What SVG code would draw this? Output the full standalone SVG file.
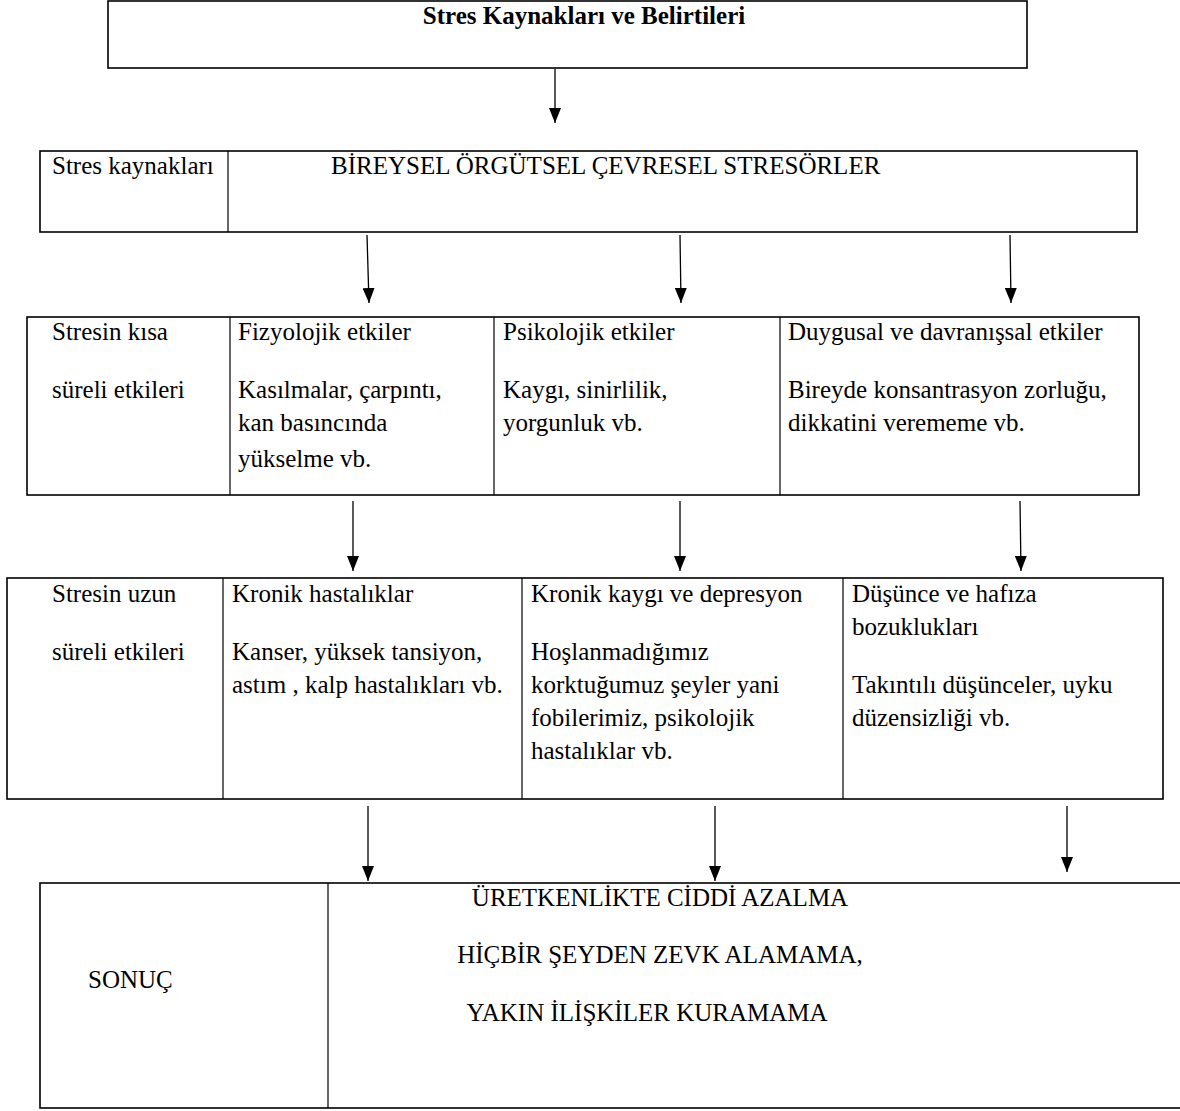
<svg xmlns="http://www.w3.org/2000/svg" width="1180" height="1111" viewBox="0 0 1180 1111">
<style>
text{font-family:"Liberation Serif","Times New Roman",serif;font-size:25px;fill:#000}
.b{font-weight:bold}
.box{fill:#fff;stroke:#000;stroke-width:1.6}
.div{stroke:#000;stroke-width:1.2}
.con{stroke:#000;stroke-width:1.3;fill:none;marker-end:url(#ah)}
</style>
<defs>
<marker id="ah" markerWidth="15" markerHeight="12" refX="15" refY="6" orient="auto" markerUnits="userSpaceOnUse" viewBox="0 0 15 12">
<path d="M0,0 L15,6 L0,12 Z" fill="#000"/>
</marker>
</defs>
<rect width="1180" height="1111" fill="#fff"/>
<g id="title">
<rect class="box" x="108" y="1" width="919" height="67"/>
<text class="b" x="584" y="24" text-anchor="middle">Stres Kaynakları ve Belirtileri</text>
</g>
<g id="sources">
<rect class="box" x="40" y="151" width="1097" height="81"/>
<line class="div" x1="228" y1="151" x2="228" y2="232"/>
<text x="52" y="174">Stres kaynakları</text>
<text x="331" y="174">BİREYSEL ÖRGÜTSEL ÇEVRESEL STRESÖRLER</text>
</g>
<g id="short-term">
<rect class="box" x="27" y="317" width="1112" height="178"/>
<line class="div" x1="230" y1="317" x2="230" y2="495"/>
<line class="div" x1="494" y1="317" x2="494" y2="495"/>
<line class="div" x1="780" y1="317" x2="780" y2="495"/>
<text x="52" y="340">Stresin kısa</text>
<text x="52" y="398">süreli etkileri</text>
<text x="238" y="340">Fizyolojik etkiler</text>
<text x="238" y="398">Kasılmalar, çarpıntı,</text>
<text x="238" y="431">kan basıncında</text>
<text x="238" y="467">yükselme vb.</text>
<text x="503" y="340">Psikolojik etkiler</text>
<text x="503" y="398">Kaygı, sinirlilik,</text>
<text x="503" y="431">yorgunluk vb.</text>
<text x="788" y="340">Duygusal ve davranışsal etkiler</text>
<text x="788" y="398">Bireyde konsantrasyon zorluğu,</text>
<text x="788" y="431">dikkatini verememe vb.</text>
</g>
<g id="long-term">
<rect class="box" x="7" y="578" width="1156" height="221"/>
<line class="div" x1="223" y1="578" x2="223" y2="799"/>
<line class="div" x1="522" y1="578" x2="522" y2="799"/>
<line class="div" x1="843" y1="578" x2="843" y2="799"/>
<text x="52" y="602">Stresin uzun</text>
<text x="52" y="660">süreli etkileri</text>
<text x="232" y="602">Kronik hastalıklar</text>
<text x="232" y="660"> Kanser, yüksek tansiyon,</text>
<text x="232" y="693">astım , kalp hastalıkları vb.</text>
<text x="531" y="602">Kronik kaygı ve depresyon</text>
<text x="531" y="660">Hoşlanmadığımız</text>
<text x="531" y="693">korktuğumuz şeyler yani</text>
<text x="531" y="726">fobilerimiz, psikolojik</text>
<text x="531" y="759">hastalıklar vb.</text>
<text x="852" y="602">Düşünce ve hafıza</text>
<text x="852" y="635">bozuklukları</text>
<text x="852" y="693">Takıntılı düşünceler, uyku</text>
<text x="852" y="726">düzensizliği vb.</text>
</g>
<g id="result">
<rect class="box" x="40" y="883" width="1150" height="225"/>
<line class="div" x1="328" y1="883" x2="328" y2="1108"/>
<text x="88" y="988">SONUÇ</text>
<text x="660" y="906" text-anchor="middle">ÜRETKENLİKTE CİDDİ AZALMA</text>
<text x="660" y="963" text-anchor="middle">HİÇBİR ŞEYDEN ZEVK ALAMAMA,</text>
<text x="647" y="1021" text-anchor="middle">YAKIN İLİŞKİLER KURAMAMA</text>
</g>
<g id="connectors">
<line class="con" x1="555" y1="69" x2="555" y2="123"/>
<line class="con" x1="367" y1="235" x2="369" y2="303"/>
<line class="con" x1="680" y1="235" x2="681" y2="303"/>
<line class="con" x1="1010" y1="235" x2="1011" y2="303"/>
<line class="con" x1="353" y1="501" x2="353" y2="571"/>
<line class="con" x1="680" y1="501" x2="680" y2="571"/>
<line class="con" x1="1020" y1="501" x2="1021" y2="571"/>
<line class="con" x1="368" y1="806" x2="368" y2="881"/>
<line class="con" x1="715" y1="806" x2="715" y2="881"/>
<line class="con" x1="1067" y1="806" x2="1067" y2="872"/>
</g>
</svg>
